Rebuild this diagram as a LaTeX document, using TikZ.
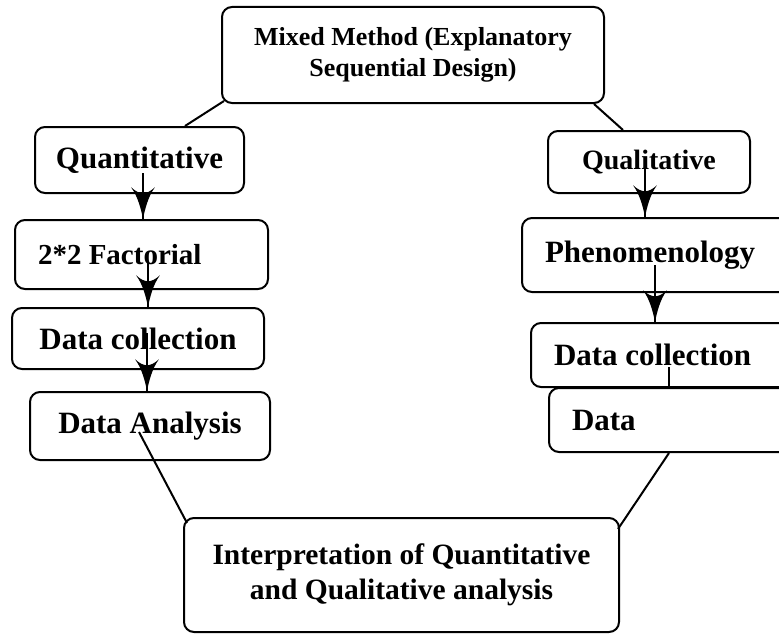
\documentclass[tikz,border=0pt]{standalone}
\usepackage{fontspec}
\setmainfont{Liberation Serif}
\usetikzlibrary{arrows}
\usetikzlibrary{decorations.markings}
\tikzset{box/.style = {draw, line width=2pt, rounded corners=10pt,
                       font=\bfseries\fontsize{31}{37}\selectfont, align=center}}
\tikzset{lbox/.style = {box, align=flush left, inner xsep=23pt}}
\tikzset{link/.style = {line width=2pt}}
\tikzset{flow/.style = {link, decoration={markings,
                                          mark=at position 1 with {\arrow[scale=3.6]{latex'}}},
                        postaction={decorate}}}

\begin{document}
\begin{tikzpicture}[x=1pt, y=-1pt]
    \useasboundingbox (0, 0) rectangle (779, 634);
    \clip (0, 0) rectangle (779, 634);
    \node [box, minimum width=382pt, minimum height=96pt,
           font=\bfseries\fontsize{26}{31}\selectfont] (mixed) at (413, 55)
          {Mixed Method (Explanatory\\Sequential Design)};
    \node [box, minimum width=209pt, minimum height=66pt] (quant) at (139.5, 160) {Quantitative};
    \node [lbox, text width=207pt, minimum height=69pt,
           font=\bfseries\fontsize{29}{35}\selectfont] (fact) at (141.5, 254.5) {2*2 Factorial};
    \node [box, minimum width=252pt, minimum height=61pt] (collectA) at (138, 338.5) {Data collection};
    \node [box, minimum width=240pt, minimum height=68pt] (analysis) at (150, 426) {Data Analysis};
    \node [box, minimum width=202pt, minimum height=62pt,
           font=\bfseries\fontsize{28}{34}\selectfont] (qual) at (649, 162) {Qualitative};
    \node [lbox, text width=232pt, minimum height=74pt] (phen) at (661, 255) {Phenomenology};
    \node [lbox, text width=223pt, minimum height=64pt] (collectB) at (665.5, 355) {Data collection};
    \node [lbox, text width=205pt, minimum height=64pt] (data) at (674.5, 420) {Data};
    \node [box, minimum width=435pt, minimum height=114pt,
           font=\bfseries\fontsize{29.5}{35}\selectfont] (interp) at (401.5, 575)
          {Interpretation of Quantitative\\and Qualitative analysis};

    \draw [link] ([xshift=3pt, yshift=3pt]mixed.south west) -- ([xshift=45.5pt]quant.north);
    \draw [link] ([xshift=-11pt]mixed.south east) -- ([xshift=-26pt]qual.north);
    \draw [flow] ([xshift=3.5pt, yshift=-13pt]quant.center) coordinate (q1) -- (q1 |- fact.north);
    \draw [flow] ([xshift=6.5pt, yshift=-8.5pt]fact.center) coordinate (f1) -- (f1 |- collectA.north);
    \draw [flow] ([xshift=9pt, yshift=5.5pt]collectA.center) coordinate (c1) -- (c1 |- analysis.north);
    \draw [link] ([xshift=-11pt, yshift=-6pt]analysis.center) -- ([xshift=4pt, yshift=-6pt]interp.north west);
    \draw [flow] ([xshift=-4pt, yshift=5pt]qual.center) coordinate (q2) -- (q2 |- phen.north);
    \draw [flow] ([xshift=-6pt, yshift=-10pt]phen.center) coordinate (p1) -- (p1 |- collectB.north);
    \draw [link] ([xshift=3.5pt, yshift=-12pt]collectB.center) coordinate (c2) -- (c2 |- data.north);
    \draw [link] ([xshift=-2pt, yshift=-12pt]interp.north east) -- ([xshift=-5.5pt]data.south);
  \end{tikzpicture}
\end{document}
